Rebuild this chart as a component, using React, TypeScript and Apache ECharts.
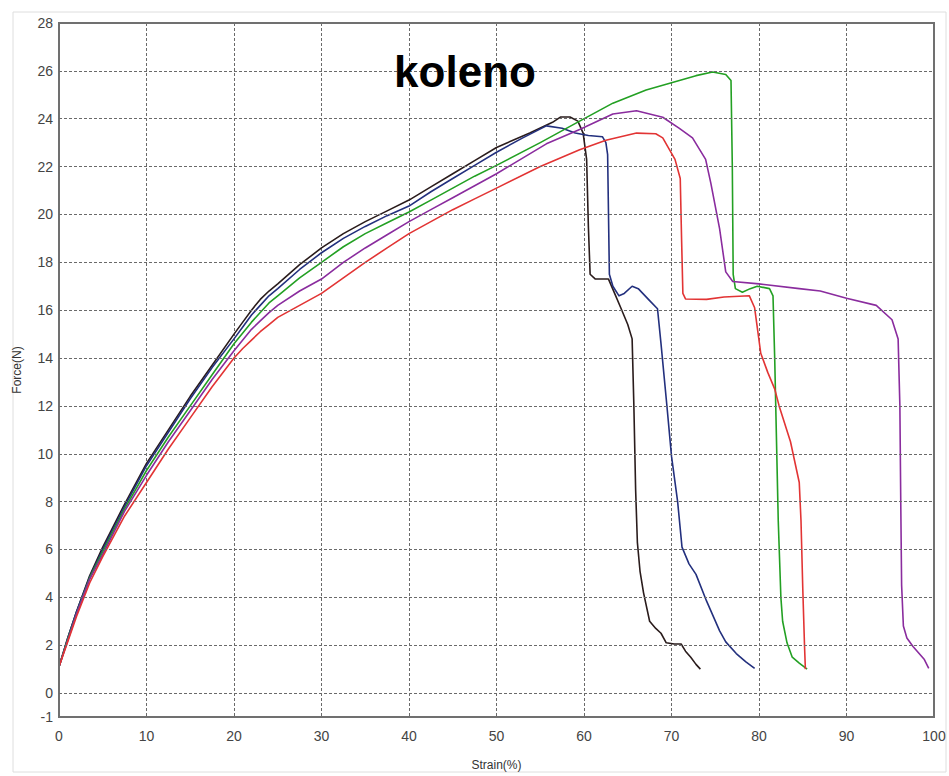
import React, { useEffect, useRef } from "react";
import * as echarts from "echarts";

const chartTitle = "koleno";
const xAxisName = "Strain(%)";
const yAxisName = "Force(N)";
const yGridValues = [0, 2, 4, 6, 8, 10, 12, 14, 16, 18, 20, 22, 24, 26];

const seriesNames = ["A", "B", "C", "D", "E"];
const seriesColors = ["#2a1c1c", "#23307e", "#23a023", "#8a2c9e", "#e23434"];

const curveBlack = [
  [0, 1.1], [1, 2.3], [2, 3.4], [3.5, 4.9], [5, 6.1], [7.5, 7.9], [10, 9.6], [12.5, 11.0], [15, 12.4], [17.5, 13.7],
  [20, 15.0], [21, 15.5], [22, 16.0], [23, 16.45], [24, 16.8], [25, 17.1], [27.5, 17.9], [30, 18.6], [32.5, 19.2],
  [35, 19.7], [37.5, 20.15], [40, 20.6], [42.5, 21.15], [45, 21.7], [47.5, 22.25], [50, 22.8], [53.8, 23.4],
  [56.4, 23.85], [57.3, 24.07], [58.4, 24.07], [59.3, 23.9], [59.9, 23.4], [60.3, 22.3],
  [60.5, 19.5], [60.7, 17.5], [61.3, 17.3], [62.8, 17.3], [63.5, 16.7], [64.2, 16.1], [65.0, 15.4], [65.5, 14.8],
  [65.7, 12.0], [65.9, 8.5], [66.1, 6.3], [66.4, 5.1], [66.8, 4.2], [67.5, 3.0], [68.2, 2.7], [68.8, 2.5], [69.4, 2.1],
  [70.3, 2.05], [71.1, 2.05], [71.6, 1.75], [72.2, 1.5], [72.8, 1.2], [73.3, 1.0],
];

const curveNavy = [
  [0, 1.1], [1, 2.3], [2, 3.4], [3.5, 4.85], [5, 6.0], [7.5, 7.8], [10, 9.5], [12.5, 10.9], [15, 12.3], [17.5, 13.6],
  [20, 14.8], [21, 15.3], [22, 15.8], [23, 16.2], [24, 16.6], [25, 16.9], [27.5, 17.7], [30, 18.4], [32.5, 19.0],
  [35, 19.5], [37.5, 19.95], [40, 20.35], [42.5, 20.95], [45, 21.5], [47.5, 22.05], [50, 22.6], [53, 23.2],
  [55.7, 23.7], [57.5, 23.6], [59, 23.4], [60.5, 23.3], [62.1, 23.25], [62.5, 23.0],
  [62.7, 22.5], [62.8, 20.0], [62.9, 17.5], [63.3, 17.0], [64, 16.6], [64.6, 16.7], [65.5, 17.0], [66.2, 16.9],
  [67.5, 16.4], [68.4, 16.06], [68.8, 14.6], [69.5, 11.9], [70, 9.9], [70.7, 8.0], [71.2, 6.1], [72, 5.4], [72.8, 4.96],
  [74, 3.85], [75.5, 2.6], [76.2, 2.14], [77.4, 1.65], [78.5, 1.3], [79.5, 1.03],
];

const curveGreen = [
  [0, 1.1], [1, 2.25], [2, 3.3], [3.5, 4.8], [5, 5.9], [7.5, 7.7], [10, 9.3], [12.5, 10.7], [15, 12.0], [17.5, 13.3],
  [20, 14.6], [21, 15.05], [22, 15.5], [23, 15.9], [24, 16.3], [25, 16.6], [27.5, 17.35], [30, 18.0], [32.5, 18.65],
  [35, 19.2], [37.5, 19.65], [40, 20.1], [42.5, 20.6], [45, 21.1], [47.5, 21.6], [50, 22.05], [55, 23.0],
  [59.5, 23.9], [63.3, 24.65], [67.1, 25.2], [70, 25.5], [72.8, 25.8], [74.7, 25.95],
  [76.2, 25.85], [76.8, 25.6], [76.95, 22.0], [77.05, 17.5], [77.3, 16.9], [78.1, 16.75], [79.0, 16.9], [79.8, 17.0],
  [81.2, 16.9], [81.6, 16.6], [81.8, 13.9], [82.2, 7.2], [82.5, 4.0], [82.7, 3.0], [83.2, 2.1], [83.8, 1.5],
  [84.6, 1.25], [85.5, 1.0],
];

const curvePurple = [
  [0, 1.1], [1, 2.2], [2, 3.3], [3.5, 4.75], [5, 5.8], [7.5, 7.6], [10, 9.1], [12.5, 10.5], [15, 11.8], [17.5, 13.1],
  [20, 14.3], [21, 14.75], [22, 15.2], [23, 15.55], [24, 15.9], [25, 16.2], [27.5, 16.8], [30, 17.3], [32.5, 18.0],
  [35, 18.6], [37.5, 19.15], [40, 19.7], [42.5, 20.2], [45, 20.7], [47.5, 21.2], [50, 21.7], [55.7, 22.95],
  [59.5, 23.55], [63.3, 24.2], [66, 24.33], [69, 24.06], [70.9, 23.6], [72.4, 23.2],
  [73.9, 22.3], [74.5, 21.3], [75.5, 19.4], [76.2, 17.6], [77, 17.2], [80, 17.1], [84.6, 16.9], [87, 16.8], [90, 16.5],
  [93.4, 16.2], [95.2, 15.6], [95.9, 14.8], [96.1, 12.0], [96.2, 8.0], [96.3, 4.5], [96.5, 2.8], [96.9, 2.3],
  [97.6, 1.95], [98.3, 1.65], [98.9, 1.4], [99.4, 1.03],
];

const curveRed = [
  [0, 1.1], [1, 2.15], [2, 3.2], [3.5, 4.6], [5, 5.7], [7.5, 7.4], [10, 8.8], [12.5, 10.2], [15, 11.5], [17.5, 12.8],
  [20, 14.0], [21, 14.4], [22, 14.75], [23, 15.1], [24, 15.4], [25, 15.7], [27.5, 16.2], [30, 16.7], [32.5, 17.35],
  [35, 18.0], [37.5, 18.6], [40, 19.2], [42.5, 19.7], [45, 20.2], [47.5, 20.65], [50, 21.1], [55, 22.0],
  [59.5, 22.7], [62.5, 23.1], [66, 23.4], [68.2, 23.37], [69, 23.2], [70.4, 22.3], [71, 21.5],
  [71.15, 19.0], [71.3, 16.7], [71.6, 16.47], [74, 16.45], [76, 16.55], [78.9, 16.6], [79.5, 16.1], [80.2, 14.2],
  [81, 13.4], [81.8, 12.7], [82.3, 12.0], [83.6, 10.5], [84.6, 8.8], [84.8, 7.2], [85.0, 4.4], [85.2, 2.0], [85.3, 1.0],
];

const curves = [curveBlack, curveNavy, curveGreen, curvePurple, curveRed];

export default function App() {
  const ref = useRef<HTMLDivElement>(null);
  useEffect(() => {
    if (!ref.current) return;
    const chart = echarts.init(ref.current, undefined, { renderer: "svg" });
    const font = '"Liberation Sans", Arial, sans-serif';
    const gridLine = { type: [3, 2], color: "#6a6a6a", width: 1 };
    chart.setOption({
      animation: false,
      backgroundColor: "#ffffff",
      grid: {
        left: 59,
        top: 23,
        width: 875,
        height: 701,
        show: true,
        borderColor: "#707070",
        borderWidth: 2,
        backgroundColor: "transparent",
        z: 3,
      },
      graphic: [
        {
          type: "rect",
          shape: { x: 13, y: 12, width: 933, height: 760 },
          style: { fill: "none", stroke: "#dedede", lineWidth: 1 },
          z: -10,
          silent: true,
        },
        {
          type: "text",
          x: 465,
          y: 71,
          z: 10,
          style: {
            text: chartTitle,
            fontSize: 44,
            fontWeight: "bold",
            fontFamily: font,
            fill: "#000000",
            align: "center",
            verticalAlign: "middle",
          },
        },
      ],
      xAxis: {
        type: "value",
        min: 0,
        max: 100,
        interval: 10,
        name: xAxisName,
        nameLocation: "middle",
        nameGap: 42,
        nameTextStyle: { fontSize: 12, color: "#333", fontFamily: font },
        axisLine: { show: false },
        axisTick: { show: false },
        axisLabel: { fontSize: 14, color: "#444", fontFamily: font, margin: 12 },
        splitLine: { show: true, lineStyle: gridLine },
      },
      yAxis: {
        type: "value",
        min: -1,
        max: 28,
        interval: 1,
        name: yAxisName,
        nameLocation: "middle",
        nameRotate: 90,
        nameGap: 36,
        nameTextStyle: { fontSize: 12, color: "#333", fontFamily: font },
        axisLine: { show: false },
        axisTick: { show: false },
        axisLabel: {
          fontSize: 14,
          color: "#444",
          fontFamily: font,
          margin: 6,
          formatter: (v: number) => (v === -1 || v % 2 === 0 ? String(v) : ""),
        },
        splitLine: { show: false },
      },
      series: [
        {
          type: "line",
          data: [],
          z: 1,
          silent: true,
          markLine: {
            silent: true,
            symbol: ["none", "none"],
            label: { show: false },
            lineStyle: gridLine,
            data: yGridValues.map((v) => ({ yAxis: v })),
          },
        },
        ...curves.map((c, i) => ({
          name: seriesNames[i],
          type: "line",
          data: c,
          showSymbol: false,
          symbol: "none",
          z: 2,
          lineStyle: { color: seriesColors[i], width: 1.6, join: "round" },
          itemStyle: { color: seriesColors[i] },
        })),
      ],
    });
    return () => chart.dispose();
  }, []);
  return (
    <div
      ref={ref}
      style={{ position: "fixed", left: 0, top: 0, width: 949, height: 776, background: "#fff" }}
    />
  );
}
